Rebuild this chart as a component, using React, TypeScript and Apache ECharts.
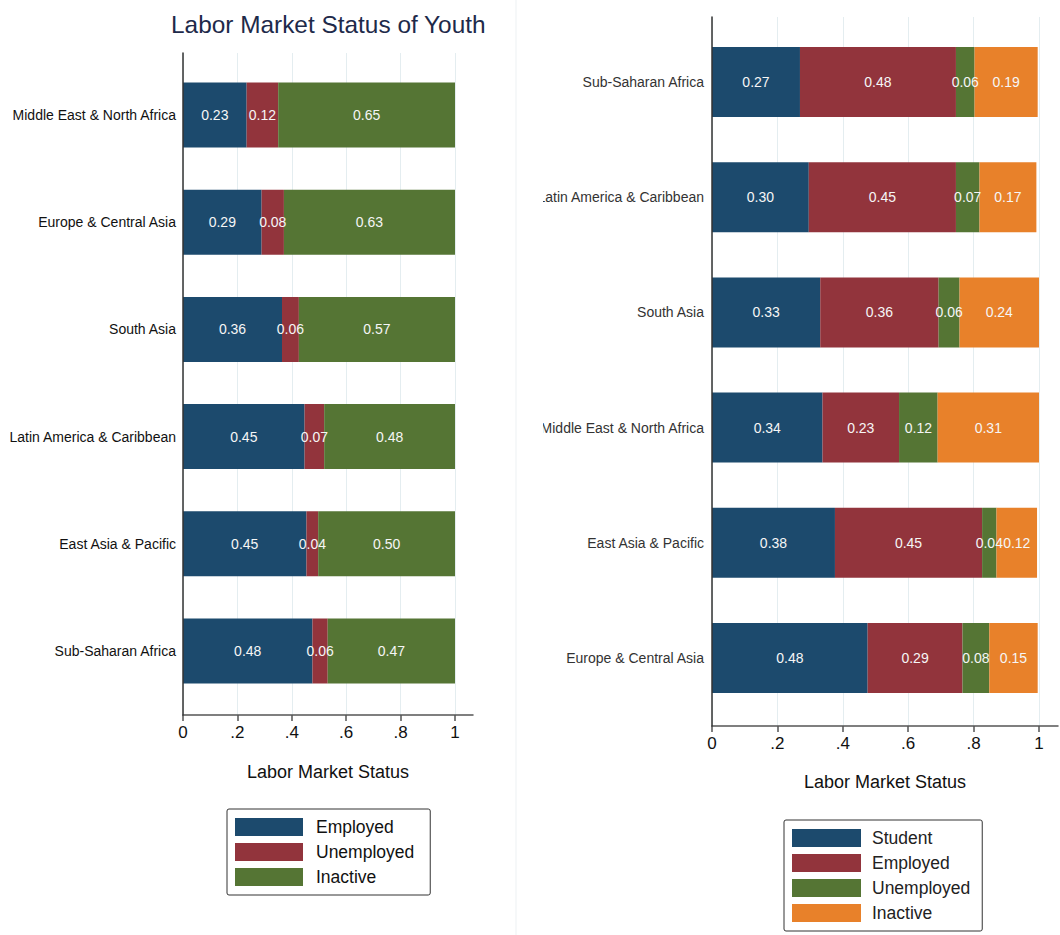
import React, { useEffect, useRef } from "react";
import * as echarts from "echarts";

const leftCategories = [
  "Middle East & North Africa",
  "Europe & Central Asia",
  "South Asia",
  "Latin America & Caribbean",
  "East Asia & Pacific",
  "Sub-Saharan Africa",
];
const leftStatus = ["Employed", "Unemployed", "Inactive"];
const leftEmployed = [0.234, 0.289, 0.364, 0.447, 0.454, 0.476];
const leftUnemployed = [0.116, 0.082, 0.062, 0.072, 0.043, 0.056];
const leftInactive = [0.65, 0.629, 0.574, 0.481, 0.503, 0.468];

const rightCategories = [
  "Sub-Saharan Africa",
  "Latin America & Caribbean",
  "South Asia",
  "Middle East & North Africa",
  "East Asia & Pacific",
  "Europe & Central Asia",
];
const rightStatus = ["Student", "Employed", "Unemployed", "Inactive"];
const rightStudent = [0.269, 0.296, 0.331, 0.338, 0.376, 0.476];
const rightEmployed = [0.477, 0.45, 0.362, 0.234, 0.45, 0.29];
const rightUnemployed = [0.057, 0.072, 0.064, 0.118, 0.044, 0.082];
const rightInactive = [0.193, 0.174, 0.243, 0.31, 0.124, 0.148];

const tickValues = [0, 0.2, 0.4, 0.6, 0.8, 1];
const tickText = ["0", ".2", ".4", ".6", ".8", "1"];

const NAVY = "#1c4a6d";
const MAROON = "#92343c";
const GREEN = "#557534";
const ORANGE = "#e8812a";
const FONT = "'Liberation Sans', Arial, Helvetica, sans-serif";
const RPREFIX = "R:";

export default function App() {
  const ref = useRef<HTMLDivElement>(null);

  useEffect(() => {
    if (!ref.current) return;
    const chart = echarts.init(ref.current, undefined, { renderer: "svg" });

    const visibleX = (gridIndex: number, max: number, nameGap: number) => ({
      type: "value",
      gridIndex,
      min: 0,
      max,
      name: "Labor Market Status",
      nameLocation: "middle",
      nameGap,
      nameTextStyle: { fontSize: 18, color: "#111", fontFamily: FONT },
      axisLine: { show: true, lineStyle: { color: "#555", width: 1.5 } },
      axisTick: {
        show: true,
        length: 6,
        customValues: tickValues,
        lineStyle: { color: "#555", width: 1.5 },
      },
      axisLabel: {
        show: true,
        customValues: tickValues,
        margin: 9,
        fontSize: 17,
        color: "#111",
        fontFamily: FONT,
        formatter: (v: number) => {
          const i = tickValues.findIndex((t) => Math.abs(t - v) < 1e-6);
          return i >= 0 ? tickText[i] : "";
        },
      },
      splitLine: { show: true, lineStyle: { color: "#e4edf0", width: 1 } },
    });

    const hiddenX = (gridIndex: number, max: number) => ({
      type: "value",
      gridIndex,
      min: 0,
      max,
      show: false,
      splitLine: { show: false },
    });

    const lineY = (gridIndex: number) => ({
      type: "value",
      gridIndex,
      min: 0,
      max: 1,
      z: 10,
      axisLine: { show: true, lineStyle: { color: "#333", width: 1.5 } },
      axisTick: { show: false },
      axisLabel: { show: false },
      splitLine: { show: false },
    });

    const catY = (gridIndex: number, data: string[], color: string, margin: number) => ({
      type: "category",
      gridIndex,
      data,
      inverse: true,
      axisLine: { show: false },
      axisTick: { show: false },
      axisLabel: { fontSize: 14, color, margin, fontFamily: FONT },
      splitLine: { show: false },
    });

    const barLabel = {
      show: true,
      position: "inside",
      color: "#f6f6f6",
      fontSize: 14,
      fontFamily: FONT,
      formatter: (p: any) => Number(p.value).toFixed(2),
    };

    const leftData = [leftEmployed, leftUnemployed, leftInactive];
    const leftColors = [NAVY, MAROON, GREEN];
    const rightData = [rightStudent, rightEmployed, rightUnemployed, rightInactive];
    const rightColors = [NAVY, MAROON, GREEN, ORANGE];

    const series: any[] = [];
    leftStatus.forEach((name, i) => {
      series.push({
        type: "bar",
        name,
        xAxisIndex: 1,
        yAxisIndex: 1,
        stack: "left",
        barWidth: 65,
        data: leftData[i],
        itemStyle: { color: leftColors[i] },
        label: barLabel,
      });
    });
    rightStatus.forEach((name, i) => {
      series.push({
        type: "bar",
        name: RPREFIX + name,
        xAxisIndex: 3,
        yAxisIndex: 3,
        stack: "right",
        barWidth: 70,
        data: rightData[i],
        itemStyle: { color: rightColors[i] },
        label: barLabel,
      });
    });

    const legendBase = {
      orient: "vertical",
      itemHeight: 18,
      itemGap: 5,
      icon: "rect",
      selectedMode: false,
      borderColor: "#333",
      borderWidth: 1,
      borderRadius: 2,
    };

    const leftMax = 290 / 272;
    const rightMax = 346 / 327;

    chart.setOption({
      animation: false,
      backgroundColor: "#ffffff",
      textStyle: { fontFamily: FONT },
      title: {
        text: "Labor Market Status of Youth",
        left: 166,
        top: 7,
        textStyle: { fontSize: 24.4, fontWeight: "normal", color: "#1e2a4a", fontFamily: FONT },
      },
      grid: [
        { left: 183, top: 53, width: 290, height: 662 },
        { left: 183, top: 61.4, width: 290, height: 643.2 },
        { left: 712, top: 17, width: 346, height: 709 },
        { left: 712, top: 24.4, width: 346, height: 691.2 },
      ],
      xAxis: [
        visibleX(0, leftMax, 48),
        hiddenX(1, leftMax),
        visibleX(2, rightMax, 47),
        hiddenX(3, rightMax),
      ],
      yAxis: [
        lineY(0),
        catY(1, leftCategories, "#111", 7),
        lineY(2),
        catY(3, rightCategories, "#333", 8),
      ],
      legend: [
        {
          ...legendBase,
          left: 227,
          top: 809,
          itemWidth: 68,
          padding: [8, 16, 8, 8],
          textStyle: { fontSize: 17.5, color: "#111", lineHeight: 20, padding: [0, 0, 0, 8], fontFamily: FONT },
          data: leftStatus,
        },
        {
          ...legendBase,
          left: 784,
          top: 820,
          itemWidth: 69,
          padding: [8, 12, 8, 8],
          textStyle: { fontSize: 17.5, color: "#222", lineHeight: 20, padding: [0, 0, 0, 6], fontFamily: FONT },
          data: rightStatus.map((s) => RPREFIX + s),
          formatter: (name: string) => name.replace(RPREFIX, ""),
        },
      ],
      graphic: [
        {
          type: "rect",
          z: 100,
          shape: { x: 517, y: 0, width: 26, height: 935 },
          style: { fill: "#ffffff" },
        },
        {
          type: "line",
          z: 101,
          shape: { x1: 516, y1: 0, x2: 516, y2: 935 },
          style: { stroke: "#edf1f3", lineWidth: 1 },
        },
      ],
      series,
    });

    return () => {
      chart.dispose();
    };
  }, []);

  return (
    <div
      ref={ref}
      style={{ position: "fixed", left: 0, top: 0, width: 1060, height: 935, background: "#fff" }}
    />
  );
}
